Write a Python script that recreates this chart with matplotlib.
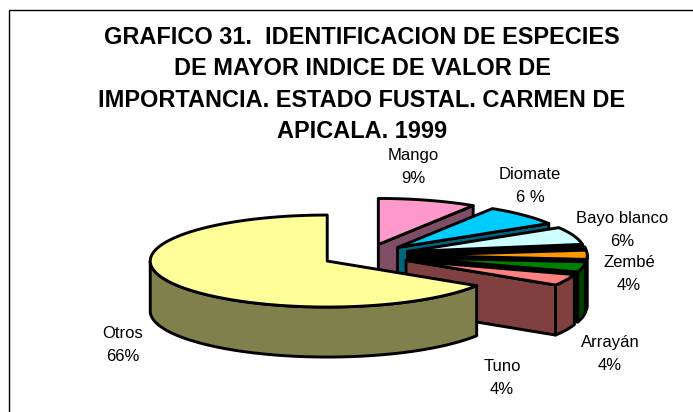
import numpy as np
import matplotlib
matplotlib.use('Agg')
import matplotlib.pyplot as plt
from matplotlib.patches import Polygon, Rectangle

# shares, clockwise from 12 o'clock (labels are the printed ones)
species = ['Mango', 'Diomate', 'Bayo blanco', 'otra', 'Zembé', 'Arrayán', 'Tuno', 'Otros']
shares = [9.0, 7.3, 6.2, 0.7, 3.2, 3.6, 4.0, 66.0]
colors = ['#FF99CC', '#00CCFF', '#CCFFFF', '#669999', '#FF9900', '#008000', '#FF8080', '#FFFF99']

label_text = ['Mango\n9%', 'Diomate\n6 %', 'Bayo blanco\n6%', 'Zembé\n4%', 'Arrayán\n4%', 'Tuno\n4%', 'Otros\n66%']
label_xy = [(413, 167), (530, 186), (622, 230), (629, 274), (610, 354), (502, 378), (123, 345)]

title_lines = ['GRAFICO 31.  IDENTIFICACION DE ESPECIES',
               'DE MAYOR INDICE DE VALOR DE',
               'IMPORTANCIA. ESTADO FUSTAL. CARMEN DE',
               'APICALA. 1999']
title_y = [37, 68, 100, 131]

# pie geometry in pixels
cx, cy = 366, 255.5
a, b = 177, 46
depth = 50
explode = 0.25
edge = 2.1

plt.rcParams['font.family'] = ['Liberation Sans', 'DejaVu Sans']

fig = plt.figure(figsize=(6.93, 4.12), dpi=100)
ax = fig.add_axes([0, 0, 1, 1])
ax.set_xlim(0, 693)
ax.set_ylim(412, 0)
ax.axis('off')

ax.add_patch(Rectangle((9, 10), 720, 440, fill=False, ec='black', lw=1.0))


def darker(c):
    return tuple(v * 0.5 for v in matplotlib.colors.to_rgb(c))


def point(x0, y0, ang):
    return x0 + a * np.cos(ang), y0 - b * np.sin(ang)


def face(pts, col, z):
    ax.add_patch(Polygon(pts, closed=True, fc=col, ec='black', lw=edge, joinstyle='round', zorder=z))


start = 90.0
for i, (share, col) in enumerate(zip(shares, colors)):
    end = start - share * 3.6
    t0, t1 = np.radians(end), np.radians(start)
    mid = (t0 + t1) / 2
    x0 = cx + explode * a * np.cos(mid)
    y0 = cy - explode * b * np.sin(mid)
    z = 2 + i
    side = darker(col)

    # cut faces that look towards the viewer
    for ang, visible in ((t0, np.cos(t0) > 0), (t1, np.cos(t1) < 0)):
        if visible:
            px, py = point(x0, y0, ang)
            face([(x0, y0), (px, py), (px, py + depth), (x0, y0 + depth)], side, z)

    # front part of the rim
    ts = np.linspace(t0, t1, 200)
    ts = ts[np.sin(ts) <= 0]
    if len(ts) > 1:
        xs, ys = point(x0, y0, ts)
        rim = list(zip(xs, ys)) + list(zip(xs[::-1], ys[::-1] + depth))
        face(rim, side, z)

    # top of the slice
    ts = np.linspace(t0, t1, 200)
    xs, ys = point(x0, y0, ts)
    face([(x0, y0)] + list(zip(xs, ys)), col, z)
    start = end

for line, y in zip(title_lines, title_y):
    ax.text(362, y, line, ha='center', va='center', fontsize=16.9, fontweight='bold', color='black')

for txt, (x, y) in zip(label_text, label_xy):
    ax.text(x, y, txt, ha='center', va='center', fontsize=12, linespacing=1.65, color='black', zorder=20)

fig.savefig('out.png', dpi=100)
